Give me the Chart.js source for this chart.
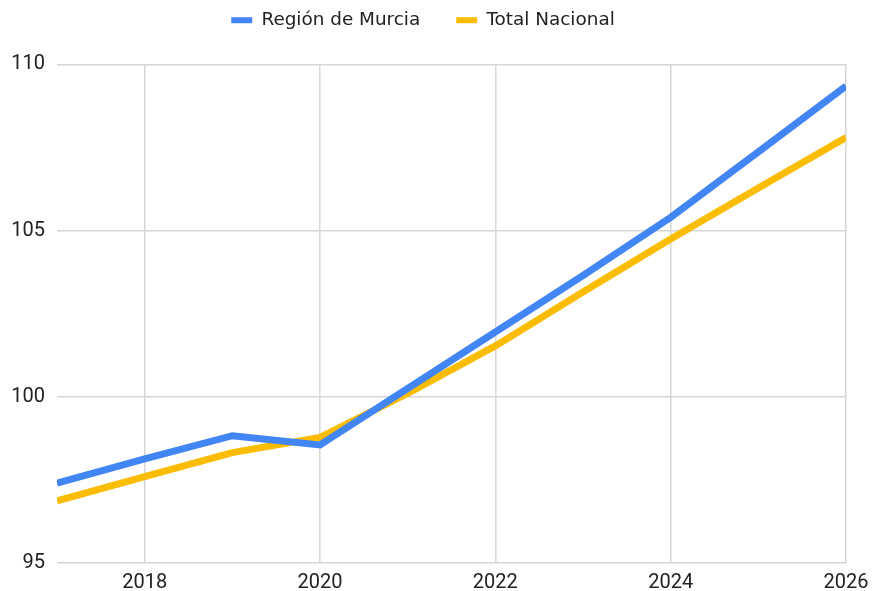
<!DOCTYPE html>
<html>
<head>
<meta charset="utf-8">
<script src="https://cdn.jsdelivr.net/npm/chart.js@4"></script>
<style>
  html, body { margin: 0; padding: 0; background: #fff; }
  #wrap { width: 885px; height: 591px; }
</style>
</head>
<body>
<div id="wrap"><canvas id="myChart"></canvas></div>
<script>
var years = [2017, 2018, 2019, 2020, 2021, 2022, 2023, 2024, 2025, 2026];
var murcia = [97.4, 98.13, 98.83, 98.55, 100.25, 101.95, 103.65, 105.4, 107.37, 109.35];
var nacional = [96.87, 97.6, 98.32, 98.78, 100.1, 101.53, 103.15, 104.75, 106.28, 107.8];
var xTicks = [2018, 2020, 2022, 2024, 2026];
var yTicks = [95, 100, 105, 110];

function pts(vals) {
  return years.map(function (y, i) { return {x: y, y: vals[i]}; });
}

// make the legend box taller so the plot starts lower, without moving the legend text
var legendGap = {
  id: 'legendGap',
  beforeInit: function (chart) {
    var fit = chart.legend.fit;
    chart.legend.fit = function () {
      fit.call(this);
      this.height += 25;
    };
  }
};

var ctx = document.getElementById('myChart').getContext('2d');
var myChart = new Chart(ctx, {
  type: 'line',
  data: {
    datasets: [{
        label: "Región de Murcia",
        data: pts(murcia),
        borderColor: "#4285f4",
        backgroundColor: "#4285f4",
        borderWidth: 7,
        pointRadius: 0,
        tension: 0
      }, {
        label: "Total Nacional",
        data: pts(nacional),
        borderColor: "#fbbc04",
        backgroundColor: "#fbbc04",
        borderWidth: 7,
        pointRadius: 0,
        tension: 0
      }
    ]
  },
  plugins: [legendGap],
  options: {
    responsive: true,
    maintainAspectRatio: false,
    animation: false,
    layout: { padding: { top: -25, right: 39, bottom: 0, left: 0 } },
    plugins: {
      tooltip: { enabled: false },
      legend: {
        position: 'top',
        labels: {
          boxWidth: 21,
          boxHeight: 6,
          padding: 36,
          color: '#222',
          font: { family: 'DejaVu Sans', size: 18.4 },
          generateLabels: function (chart) {
            var items = Chart.defaults.plugins.legend.labels.generateLabels(chart);
            items.forEach(function (it) { it.lineWidth = 0; });
            return items;
          }
        }
      }
    },
    scales: {
      x: {
        type: 'linear',
        min: 2017,
        max: 2026,
        afterBuildTicks: function (axis) {
          axis.ticks = xTicks.map(function (v) { return {value: v}; });
        },
        afterFit: function (axis) { axis.height = 28; },
        ticks: {
          color: '#222',
          font: { family: 'Roboto', size: 20 },
          padding: 8,
          maxRotation: 0,
          callback: function (v) { return String(v); }
        },
        grid: { color: '#d6d6d6', lineWidth: 1.5, drawTicks: false },
        border: { display: false }
      },
      y: {
        min: 95,
        max: 110,
        afterBuildTicks: function (axis) {
          axis.ticks = yTicks.map(function (v) { return {value: v}; });
        },
        afterFit: function (axis) { axis.width = 57; },
        ticks: {
          color: '#222',
          font: { family: 'Roboto', size: 20 },
          padding: 12
        },
        grid: { color: '#d6d6d6', lineWidth: 1.5, drawTicks: false },
        border: { display: false }
      }
    }
  }
});
</script>
</body>
</html>
